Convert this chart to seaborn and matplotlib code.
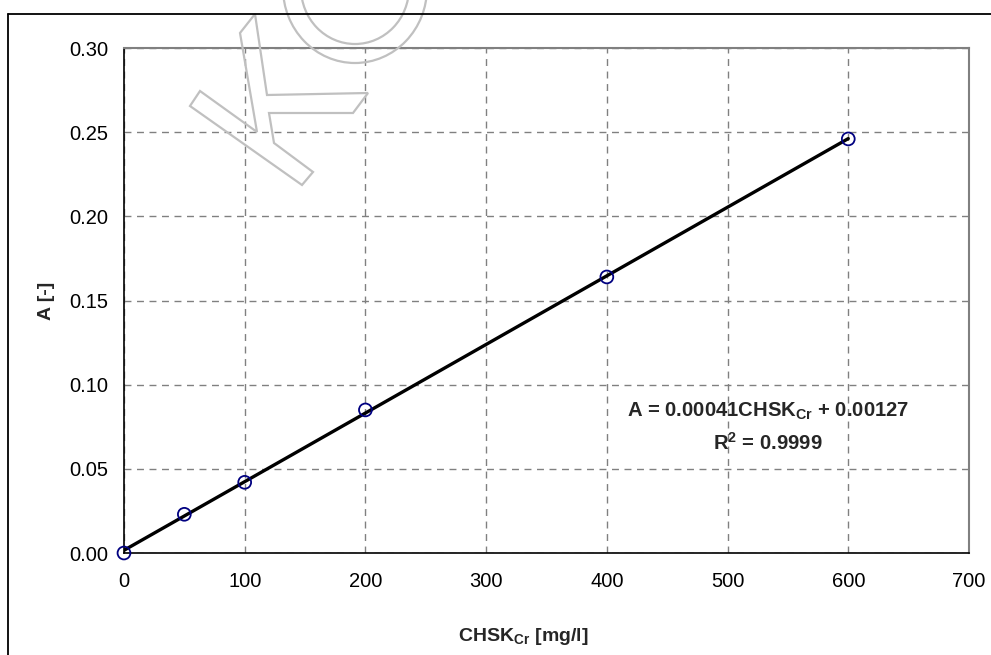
import numpy as np
import pandas as pd
import matplotlib
matplotlib.use("Agg")
import matplotlib.pyplot as plt
import seaborn as sns
from matplotlib.lines import Line2D
from matplotlib.patches import Polygon, Ellipse

# calibration points
konc = [0, 50, 100, 200, 400, 600]
absorb = [0.000, 0.023, 0.042, 0.085, 0.164, 0.246]

x_ticks = [0, 100, 200, 300, 400, 500, 600, 700]
y_ticks = [0.00, 0.05, 0.10, 0.15, 0.20, 0.25, 0.30]

rovnice = r"A = 0.00041$\mathbf{CHSK_{Cr}}$ + 0.00127"
r2_text = r"R$\mathbf{^2}$ = 0.9999"

df = pd.DataFrame({"CHSK": konc, "A": absorb})

sns.set_style("white")
plt.rcParams["font.family"] = ["Liberation Sans", "DejaVu Sans"]
plt.rcParams["mathtext.fontset"] = "custom"
plt.rcParams["mathtext.rm"] = "Liberation Sans"
plt.rcParams["mathtext.bf"] = "Liberation Sans:bold"

fig = plt.figure(figsize=(9.91, 6.55), dpi=100)
ax = fig.add_axes([0.1251, 0.1557, 0.8527, 0.7710])

# trendline + points
sns.regplot(data=df, x="CHSK", y="A", ci=None, truncate=True, ax=ax,
            scatter=False, line_kws={"color": "black", "lw": 2.4, "zorder": 3})
sns.scatterplot(data=df, x="CHSK", y="A", ax=ax, marker="o", s=85,
                facecolor="none", edgecolor="#000080", linewidth=1.3, zorder=4,
                clip_on=False)

ax.set_xlim(0, 700)
ax.set_ylim(0, 0.30)
ax.set_xticks(x_ticks)
ax.set_yticks(y_ticks)
ax.set_yticklabels([f"{v:.2f}" for v in y_ticks])
ax.grid(True, color="#808080", ls=(0, (5, 4)), lw=1)
ax.tick_params(direction="in", length=5, width=1, labelsize=14.5, colors="black")
ax.tick_params(axis="x", pad=14)
ax.tick_params(axis="y", pad=11)

for s in ["left", "bottom"]:
    ax.spines[s].set_color("black")
    ax.spines[s].set_linewidth(1.2)
for s in ["top", "right"]:
    ax.spines[s].set_color("#808080")
    ax.spines[s].set_linewidth(1.5)

ax.set_xlabel(r"$\mathbf{CHSK_{Cr}}$ [mg/l]", fontsize=14, fontweight="bold")
ax.set_ylabel("A [-]", fontsize=14, fontweight="bold")
ax.xaxis.set_label_coords(0.473, -0.145)
ax.yaxis.set_label_coords(-0.082, 0.5)

ax.text(0.762, 0.281, rovnice, transform=ax.transAxes, ha="center", va="center",
        fontsize=14.6, fontweight="bold")
ax.text(0.762, 0.219, r2_text, transform=ax.transAxes, ha="center", va="center",
        fontsize=14.6, fontweight="bold")

# outer chart frame (top + left visible)
W, H = 991, 655
fig.add_artist(Line2D([8 / W, 1], [1 - 14 / H, 1 - 14 / H], color="black", lw=1.3,
                      transform=fig.transFigure))
fig.add_artist(Line2D([8 / W, 8 / W], [0, 1 - 14 / H], color="black", lw=1.3,
                      transform=fig.transFigure))

# watermark (K + O outline)
k_pts = [(240, 33), (255, 14), (267, 95), (368, 93), (353, 113), (269, 113),
         (274, 143), (313, 172), (302, 185), (190, 106), (200, 91), (257, 132)]
fig.add_artist(Polygon([(x / W, 1 - y / H) for x, y in k_pts], closed=True,
                       fill=False, ec="#c0c0c0", lw=1.6, transform=fig.transFigure))
for w, h in [(144, 150), (108, 112)]:
    fig.add_artist(Ellipse((355 / W, 1 - (-12) / H), w / W, h / H, fill=False,
                           ec="#c0c0c0", lw=1.6, transform=fig.transFigure))

fig.savefig("out.png", dpi=100)
